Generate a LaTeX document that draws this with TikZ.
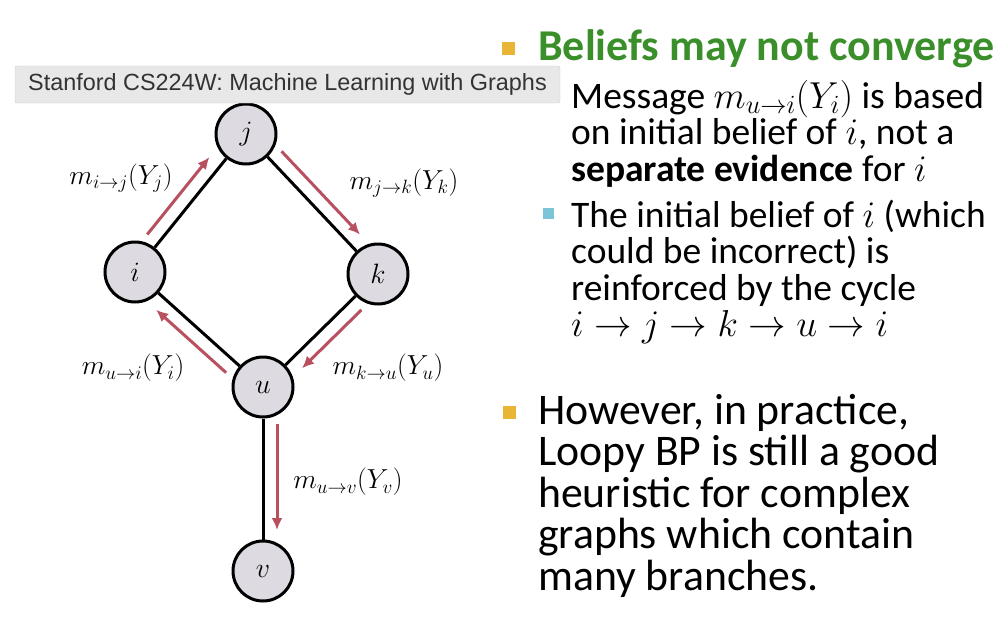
\RequirePackage{fix-cm}
\documentclass[tikz,border=0pt]{standalone}
\usepackage{fontspec}
\setmainfont{Carlito}
\newfontfamily\tipfont{Liberation Sans}
\usetikzlibrary{arrows.meta, positioning, calc}
\definecolor{msgred}{RGB}{184,80,96}
\definecolor{nodegray}{RGB}{221,219,225}
\definecolor{headgreen}{RGB}{58,143,42}
\definecolor{bulletgold}{RGB}{232,182,52}
\definecolor{bulletblue}{RGB}{124,197,216}
\definecolor{tipgray}{RGB}{232,232,232}
\newcommand\fixedlines{\setlength\lineskiplimit{-50pt}}
\tikzset{
    var/.style={circle, draw=black, line width=3pt, fill=nodegray, minimum size=60pt, inner sep=0pt, font=\fontsize{28}{28}\selectfont},
    link/.style={line width=3pt, black},
    msg/.style={-{Latex[length=12pt, width=11pt]}, line width=3pt, msgred, shorten <=37pt, shorten >=41pt},
    lab/.style={font=\fontsize{27.5}{27.5}\selectfont},
    bullet/.style={rectangle, inner sep=0pt, minimum size=12pt},
    heading/.style={anchor=base west, inner sep=0pt, text=headgreen, font=\fontsize{44}{44}\selectfont\bfseries},
    body/.style={anchor=base west, inner sep=0pt, align=left, font=\fontsize{37.5}{36.5}\selectfont\fixedlines},
    bigbody/.style={anchor=base west, inner sep=0pt, align=left, font=\fontsize{43.7}{41.5}\selectfont\fixedlines}
}

\begin{document}
\begin{tikzpicture}[x=1pt, y=-1pt]
    \useasboundingbox (0,0) rectangle (1006,618);

    % graph
    \node[var] (j) at (246,134) {$j$};
    \node[var] (i) at (135,272) {$i$};
    \node[var] (k) at (378,274) {$k$};
    \node[var] (u) at (263,387) {$u$};
    \node[var] (v) at (263,571) {$v$};

    \draw[link] (i) -- (j);
    \draw[link] (j) -- (k);
    \draw[link] (k) -- (u);
    \draw[link] (u) -- (i);
    \draw[link] (u) -- (v);

    % messages
    \draw[msg] ($(i)!14pt!90:(j)$) -- ($(j)!14pt!-90:(i)$);
    \draw[msg] ($(j)!14pt!90:(k)$) -- ($(k)!14pt!-90:(j)$);
    \draw[msg] ($(k)!14pt!90:(u)$) -- ($(u)!14pt!-90:(k)$);
    \draw[msg] ($(u)!14pt!90:(i)$) -- ($(i)!14pt!-90:(u)$);
    \draw[msg] ($(u)!14pt!90:(v)$) -- ($(v)!14pt!-90:(u)$);

    \node[lab] (lij) at (121,178) {$m_{i\to j}(Y_j)$};
    \node[lab] (ljk) at (404,183) {$m_{j\to k}(Y_k)$};
    \node[lab] (lku) at (388,368) {$m_{k\to u}(Y_u)$};
    \node[lab] (lui) at (133,368) {$m_{u\to i}(Y_i)$};
    \node[lab] (luv) at (348,482) {$m_{u\to v}(Y_v)$};

    % text (anchored at the baseline of the last line)
    \node[bullet, fill=bulletgold, minimum size=13pt] (b1) at (508,49) {};
    \node[heading] (head) at (538,60) {Beliefs may not converge};
    \node[body] (based) at (571,181) {Message $m_{u\to i}(Y_i)$ is based\\on initial belief of $i$, not a\\\textbf{separate evidence} for $i$};
    \node[bullet, fill=bulletblue, minimum size=11pt] (b2) at (548,213) {};
    \node[body] (cycle) at (571,336.5) {The initial belief of $i$ (which\\could be incorrect) is\\reinforced by the cycle\\$i\to j\to k\to u\to i$};
    \node[bullet, fill=bulletgold, minimum size=13pt] (b3) at (509,412) {};
    \node[bigbody] (practice) at (538,590) {However, in practice,\\Loopy BP is still a good\\heuristic for complex\\graphs which contain\\many branches.};

    % tooltip
    \node[draw=black!20, fill=tipgray, rounded corners=2pt, minimum width=545pt, minimum height=37pt, inner sep=0pt, font=\tipfont\fontsize{23.4}{23.4}\selectfont, text=black!80] (tip) at (287.5,84.5) {Stanford CS224W: Machine Learning with Graphs};
\end{tikzpicture}
\end{document}
